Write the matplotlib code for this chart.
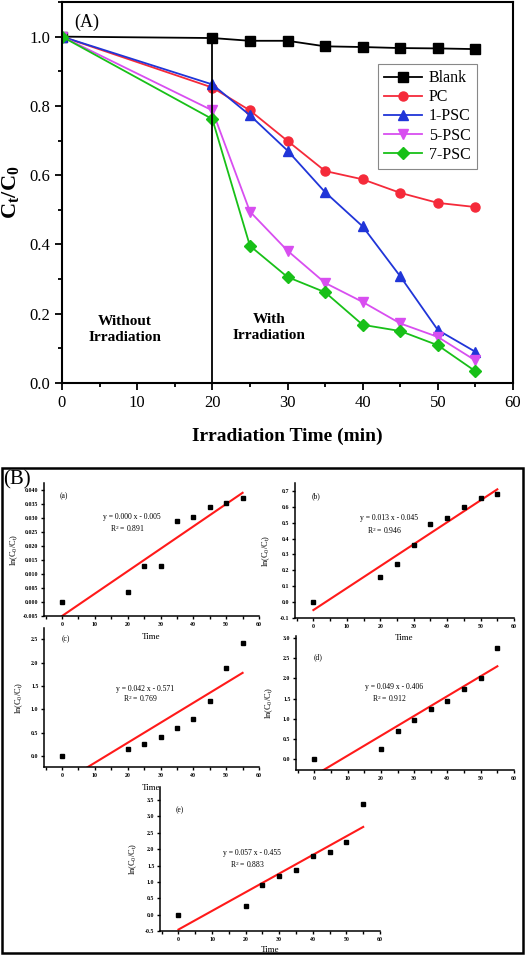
import matplotlib
matplotlib.use('Agg')
import matplotlib.pyplot as plt
from matplotlib.patches import Rectangle
from matplotlib.ticker import MultipleLocator, FormatStrFormatter

plt.rcParams['font.family'] = ['Liberation Serif', 'DejaVu Serif']
plt.rcParams['mathtext.fontset'] = 'custom'
plt.rcParams['mathtext.rm'] = 'Liberation Serif'
plt.rcParams['mathtext.it'] = 'Liberation Serif:italic'
plt.rcParams['mathtext.bf'] = 'Liberation Serif:bold'

# ---- data ----
time_min = [0, 20, 25, 30, 35, 40, 45, 50, 55]

blank = [1.000, 0.996, 0.988, 0.988, 0.972, 0.970, 0.967, 0.966, 0.964]
pc = [1.000, 0.853, 0.787, 0.699, 0.612, 0.588, 0.549, 0.520, 0.508]
psc1 = [1.000, 0.862, 0.773, 0.671, 0.551, 0.452, 0.308, 0.153, 0.090]
psc5 = [1.000, 0.787, 0.495, 0.382, 0.289, 0.234, 0.172, 0.133, 0.065]
psc7 = [1.000, 0.762, 0.396, 0.306, 0.262, 0.168, 0.150, 0.109, 0.034]

series_names = ['Blank', 'PC', '1-PSC', '5-PSC', '7-PSC']
series_colors = ['#000000', '#f52a3a', '#2035d8', '#d84ef0', '#18c018']
series_markers = ['s', 'o', '^', 'v', 'D']

# ln(C0/Ct) for each sample
ln_a = [0.0000, 0.0035, 0.0130, 0.0130, 0.0290, 0.0305, 0.0340, 0.0352, 0.0372]
ln_b = [0.00, 0.16, 0.24, 0.36, 0.49, 0.53, 0.60, 0.655, 0.68]
ln_c = [0.00, 0.15, 0.26, 0.40, 0.60, 0.80, 1.18, 1.88, 2.42]
ln_d = [0.00, 0.24, 0.70, 0.96, 1.24, 1.45, 1.74, 2.02, 2.76]
ln_e = [0.00, 0.27, 0.92, 1.18, 1.35, 1.78, 1.90, 2.22, 3.38]

# fitted line end points (x = 0 and x = 55)
fit_x = [0, 55]
fit_a = [-0.005, 0.039]
fit_b = [-0.05, 0.71]
fit_c = [-0.571, 1.78]
fit_d = [-0.406, 2.30]
fit_e = [-0.455, 2.68]

equations = ['y = 0.000 x - 0.005', 'y = 0.013 x - 0.045', 'y = 0.042 x - 0.571',
             'y = 0.049 x - 0.406', 'y = 0.057 x - 0.455']
r_squared = ['0.891', '0.946', '0.769', '0.912', '0.883']
panel_tags = ['(a)', '(b)', '(c)', '(d)', '(e)']

W, H = 529, 958
fig = plt.figure(figsize=(W / 100, H / 100), dpi=100)


def add_axes_px(left, top, right, bottom):
    return fig.add_axes([left / W, 1 - bottom / H, (right - left) / W, (bottom - top) / H])


# ---------------- panel A ----------------
ax = add_axes_px(62, 2, 513, 383)
for vals, name, col, mk in zip([blank, pc, psc1, psc5, psc7], series_names,
                               series_colors, series_markers):
    ax.plot(time_min, vals, color=col, marker=mk, markersize=6.5, lw=1.3, label=name)
ax.vlines(20, 0, blank[1], color='black', lw=1.3)

ax.set_xlim(0, 60)
ax.set_ylim(0, 1.1)
ax.xaxis.set_major_locator(MultipleLocator(10))
ax.xaxis.set_minor_locator(MultipleLocator(5))
ax.yaxis.set_major_locator(MultipleLocator(0.2))
ax.yaxis.set_minor_locator(MultipleLocator(0.1))
ax.yaxis.set_major_formatter(FormatStrFormatter('%.1f'))
ax.tick_params(which='both', direction='out', width=1.3, labelsize=12)
ax.tick_params(which='major', length=5)
ax.tick_params(which='minor', length=3)
for sp in ax.spines.values():
    sp.set_linewidth(1.5)

ax.set_xlabel('Irradiation Time (min)', fontsize=14, fontweight='bold', labelpad=12)
ax.set_ylabel(r'$\mathbf{C_t/C_0}$', fontsize=16, labelpad=6)

ax.text(3.3, 1.04, '(A)', fontsize=13, ha='center', va='center')
ax.text(8.4, 0.155, 'Without\nIrradiation', fontsize=11, fontweight='bold',
        ha='center', va='center', linespacing=1.25)
ax.text(27.5, 0.16, 'With\nIrradiation', fontsize=11, fontweight='bold',
        ha='center', va='center', linespacing=1.25)

leg = ax.legend(loc='upper right', bbox_to_anchor=(0.92, 0.838), fontsize=11.5,
                handlelength=2.4, labelspacing=0.2, borderpad=0.4,
                fancybox=False, framealpha=1, edgecolor='#888888',
                handletextpad=0.4, borderaxespad=0)
leg.get_frame().set_linewidth(0.8)

# ---------------- panel B ----------------
fig.patches.append(Rectangle((2 / W, 1 - 953 / H), 521 / W, (953 - 468) / H,
                             transform=fig.transFigure, fill=False,
                             edgecolor='black', lw=1.8))
fig.text(3 / W, 1 - 480 / H, '(B)', fontsize=15, ha='left', va='center')

sub_specs = [
    dict(box=(44, 483, 259, 616), y=ln_a, fit=fit_a, ylim=(-0.005, 0.0425),
         ystep=0.005, fmt='%.3f', eq=(0.41, 0.745, 0.655), tag=(0.075, 0.9),
         xlab=-0.158, ylab=-0.112),
    dict(box=(295, 483, 514, 618), y=ln_b, fit=fit_b, ylim=(-0.1, 0.75),
         ystep=0.1, fmt='%.1f', eq=(0.43, 0.74, 0.65), tag=(0.075, 0.9),
         xlab=-0.148, ylab=-0.105),
    dict(box=(44, 628, 259, 767), y=ln_c, fit=fit_c, ylim=(-0.235, 2.74),
         ystep=0.5, fmt='%.1f', eq=(0.47, 0.56, 0.49), tag=(0.08, 0.92),
         xlab=-0.151, ylab=-0.09),
    dict(box=(296, 636, 514, 770), y=ln_d, fit=fit_d, ylim=(-0.27, 3.05),
         ystep=0.5, fmt='%.1f', eq=(0.45, 0.62, 0.53), tag=(0.08, 0.84),
         xlab=None, ylab=-0.096),
    dict(box=(160, 787, 380, 931), y=ln_e, fit=fit_e, ylim=(-0.5, 3.9),
         ystep=0.5, fmt='%.1f', eq=(0.42, 0.54, 0.46), tag=(0.07, 0.84),
         xlab=-0.132, ylab=-0.095),
]

for spec, eq, r2, tag in zip(sub_specs, equations, r_squared, panel_tags):
    sax = add_axes_px(*spec['box'])
    sax.patch.set_alpha(0)
    sax.plot(fit_x, spec['fit'], color='#ff1a1a', lw=1.5)
    sax.plot(time_min, spec['y'], ls='none', marker='s', markersize=2.6, color='black')
    sax.set_xlim(-5.5, 60)
    sax.set_ylim(*spec['ylim'])
    sax.spines['top'].set_visible(False)
    sax.spines['right'].set_visible(False)
    for sp in ('left', 'bottom'):
        sax.spines[sp].set_linewidth(1.1)
    sax.xaxis.set_major_locator(MultipleLocator(10))
    sax.xaxis.set_minor_locator(MultipleLocator(5))
    sax.yaxis.set_major_locator(MultipleLocator(spec['ystep']))
    sax.yaxis.set_major_formatter(FormatStrFormatter(spec['fmt']))
    sax.tick_params(which='both', direction='out', width=1.0, labelsize=4.2, pad=1.5)
    sax.tick_params(which='major', length=2.5)
    sax.tick_params(which='minor', length=1.8)
    for lab in sax.get_xticklabels() + sax.get_yticklabels():
        lab.set_fontweight('bold')

    sax.set_ylabel(r'ln(C$_0$/C$_\mathrm{t}$)', fontsize=6)
    sax.yaxis.set_label_coords(spec['ylab'], 0.5)
    if spec['xlab'] is not None:
        sax.set_xlabel('Time', fontsize=6.5)
        sax.xaxis.set_label_coords(0.5, spec['xlab'])
        sax.xaxis.label.set_va('center')

    ex, ey, ry = spec['eq']
    sax.text(ex, ey, eq, transform=sax.transAxes, fontsize=5.5, ha='center', va='center')
    sax.text(ex - 0.02, ry, r'R$^2$ = ' + r2, transform=sax.transAxes, fontsize=5.5,
             ha='center', va='center')
    sax.text(spec['tag'][0], spec['tag'][1], tag, transform=sax.transAxes,
             fontsize=5.5, ha='left', va='center')

fig.savefig('out.png', dpi=100)
